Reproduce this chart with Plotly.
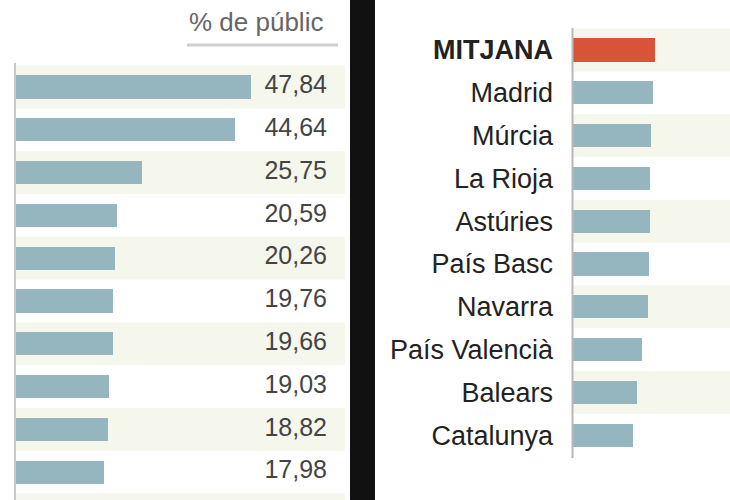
import plotly.graph_objects as go

W, H = 730, 500

# ---- data ----
left_values = [47.84, 44.64, 25.75, 20.59, 20.26, 19.76, 19.66, 19.03, 18.82, 17.98]
left_labels = ["47,84", "44,64", "25,75", "20,59", "20,26", "19,76", "19,66", "19,03", "18,82", "17,98"]
left_categories = [f"r{i+1}" for i in range(len(left_values))]

right_categories = ["MITJANA", "Madrid", "Múrcia", "La Rioja", "Astúries",
                    "País Basc", "Navarra", "País Valencià", "Balears", "Catalunya"]
right_values = [16.7, 16.2, 15.9, 15.7, 15.7, 15.5, 15.3, 14.0, 13.0, 12.3]
header_text = "% de públic"

# ---- styles ----
FONT = "Liberation Sans, Arial, sans-serif"
BAR = "#95b5bf"
RED = "#d9533a"
SHADE = "#f5f6ec"
PXU = 4.91  # pixels per unit

def px(x):
    return x / W

def py(y):
    return 1 - y / H

fig = go.Figure()

# left bars
fig.add_trace(go.Bar(
    x=left_values, y=left_categories, orientation="h",
    marker=dict(color=BAR, line=dict(width=0)), width=0.54,
    xaxis="x", yaxis="y", showlegend=False, hoverinfo="skip"))
# left value labels
left_x0, left_x1 = 16, 345
text_col = (327 - left_x0) / PXU
fig.add_trace(go.Scatter(
    x=[text_col] * len(left_values), y=left_categories, mode="text",
    text=left_labels, textposition="middle left",
    textfont=dict(family=FONT, size=25, color="#444"),
    xaxis="x", yaxis="y", showlegend=False, hoverinfo="skip"))

# right bars
right_colors = [RED] + [BAR] * (len(right_values) - 1)
right_ticktext = ["<b>MITJANA</b>"] + right_categories[1:]
fig.add_trace(go.Bar(
    x=right_values, y=right_categories, orientation="h",
    marker=dict(color=right_colors, line=dict(width=0)), width=0.54,
    xaxis="x2", yaxis="y2", showlegend=False, hoverinfo="skip"))

step = 42.8
l_c0 = 87.0
r_c0 = 50.0
r_x0 = 573

shapes = []
# left row shading
for i in range(0, 11, 2):
    shapes.append(dict(type="rect", xref="x domain", yref="y", x0=0, x1=1,
                       y0=i - 0.5, y1=i + 0.5, fillcolor=SHADE, line=dict(width=0), layer="below"))
# right row shading
for i in range(0, 10, 2):
    shapes.append(dict(type="rect", xref="x2 domain", yref="y2", x0=0, x1=1,
                       y0=i - 0.5, y1=i + 0.5, fillcolor=SHADE, line=dict(width=0), layer="below"))
# axis lines
shapes.append(dict(type="line", xref="paper", yref="paper", x0=px(15), x1=px(15),
                   y0=py(63), y1=py(500), line=dict(color="#c8c8c8", width=2)))
shapes.append(dict(type="line", xref="paper", yref="paper", x0=px(572.5), x1=px(572.5),
                   y0=py(28), y1=py(458), line=dict(color="#b8b8b8", width=2)))
# header underline
shapes.append(dict(type="line", xref="paper", yref="paper", x0=px(187), x1=px(338),
                   y0=py(45), y1=py(45), line=dict(color="#cfcfcf", width=3)))
# black divider
shapes.append(dict(type="rect", xref="paper", yref="paper", x0=px(350), x1=px(375),
                   y0=0, y1=1, fillcolor="#111111", line=dict(width=0), layer="above"))

annotations = [dict(text=header_text, xref="paper", yref="paper", x=px(187), y=py(22),
                    xanchor="left", yanchor="middle", showarrow=False,
                    font=dict(family=FONT, size=26, color="#666"))]

fig.update_layout(
    width=W, height=H, margin=dict(l=0, r=0, t=0, b=0),
    paper_bgcolor="white", plot_bgcolor="rgba(0,0,0,0)",
    bargap=0, shapes=shapes, annotations=annotations,
    xaxis=dict(domain=[px(left_x0), px(left_x1)], range=[0, (left_x1 - left_x0) / PXU],
               visible=False, fixedrange=True),
    yaxis=dict(domain=[0, 1], type="category", categoryarray=left_categories,
               range=[(H - l_c0) / step, (0 - l_c0) / step],
               showticklabels=False, showgrid=False, zeroline=False, ticks="", fixedrange=True),
    xaxis2=dict(domain=[px(r_x0), 1], range=[0, (W - r_x0) / PXU], anchor="y2",
                visible=False, fixedrange=True),
    yaxis2=dict(domain=[0, 1], type="category", categoryarray=right_categories,
                tickvals=right_categories, ticktext=right_ticktext,
                range=[(H - r_c0) / step, (0 - r_c0) / step], anchor="x2",
                showgrid=False, zeroline=False, ticks="", ticklabelstandoff=19,
                tickfont=dict(family=FONT, size=27, color="#222"), fixedrange=True),
)

fig.write_html("out.html", config={"displayModeBar": False},
               post_script="document.body.style.margin='0';document.body.style.overflow='hidden';")
